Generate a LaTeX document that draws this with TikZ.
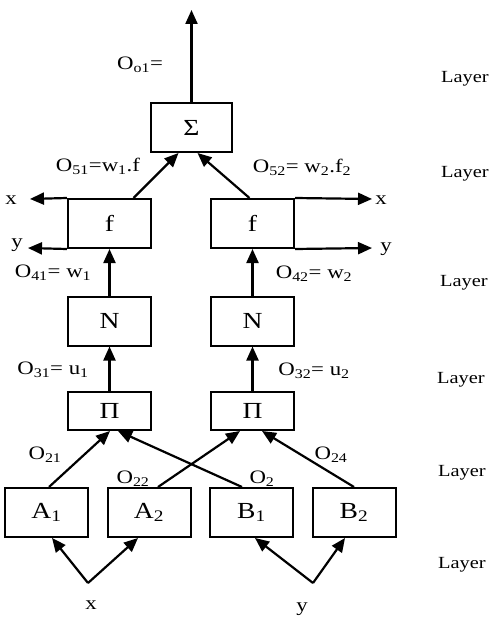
\documentclass[tikz,border=0pt]{standalone}
\usepackage{fontspec}
\setmainfont{Liberation Serif}
\newfontfamily\lblfont[FakeStretch=1.2]{Liberation Serif}
\usetikzlibrary{arrows.meta}
\begin{document}
\begin{tikzpicture}[x=1pt,y=-1pt,
  box/.style={draw,line width=2pt,minimum width=83pt,minimum height=49pt,inner sep=0pt,font=\lblfont\fontsize{23}{26}\selectfont},
  arr/.style={line width=2.2pt,-{Triangle[length=14pt,width=12pt]}},
  lbl/.style={inner sep=0pt,font=\lblfont\fontsize{19}{21}\selectfont},
  lay/.style={inner sep=0pt,anchor=west,font=\lblfont\fontsize{17}{19}\selectfont}]
\useasboundingbox[fill=white] (0,0) rectangle (493,620);
% boxes
\node[box,minimum width=81pt] (S) at (191.5,127.5) {Σ};
\node[box] (fL) at (109.5,223.5) {f};
\node[box] (fR) at (252.5,223.5) {f};
\node[box] (NL) at (109.5,321) {N};
\node[box] (NR) at (252.5,321) {N};
\node[box,minimum height=38pt] (PL) at (109.5,411) {Π};
\node[box,minimum height=38pt] (PR) at (252.5,411) {Π};
\node[box] (A1) at (46.5,512.5) {A\textsubscript{1}};
\node[box] (A2) at (149,512.5) {A\textsubscript{2}};
\node[box] (B1) at (251.5,512.5) {B\textsubscript{1}};
\node[box] (B2) at (354,512.5) {B\textsubscript{2}};
% free ends
\coordinate (out) at (191.5,10);
\coordinate (xl) at (30,199);
\coordinate (yl) at (28,248);
\coordinate (xr) at (372,199);
\coordinate (yr) at (372,248);
\coordinate (xin) at (88,583);
\coordinate (yin) at (313,583);
% connectors
\draw[arr] (S.north) -- (out);
\draw[arr] ([xshift=24pt]fL.north) -- ([xshift=-13pt]S.south);
\draw[arr] ([xshift=-3pt]fR.north) -- ([xshift=6pt]S.south);
\draw[arr] (fL.north west) -- (xl);
\draw[arr] (fL.south west) -- (yl);
\draw[arr] (fR.north east) -- (xr);
\draw[arr] (fR.south east) -- (yr);
\draw[arr] (NL.north) -- (fL.south);
\draw[arr] (NR.north) -- (fR.south);
\draw[arr] (PL.north) -- (NL.south);
\draw[arr] (PR.north) -- (NR.south);
\draw[arr] ([xshift=2.5pt]A1.north) -- ([xshift=0.5pt]PL.south);
\draw[arr] ([xshift=-9.5pt]B1.north) -- ([xshift=8.5pt]PL.south);
\draw[arr] ([xshift=9pt]A2.north) -- ([xshift=-12.5pt]PR.south);
\draw[arr] (B2.north) -- ([xshift=9.5pt]PR.south);
\draw[arr] (xin) -- ([xshift=5.5pt]A1.south);
\draw[arr] (xin) -- ([xshift=-11pt]A2.south);
\draw[arr] (yin) -- ([xshift=3.5pt]B1.south);
\draw[arr] (yin) -- ([xshift=-9pt]B2.south);
% labels
\node[lbl] (lo) at (140,65) {O\textsubscript{o1}=};
\node[lbl] (l51) at (98,166) {O\textsubscript{51}=w\textsubscript{1}.f};
\node[lbl] (l52) at (302,167) {O\textsubscript{52}= w\textsubscript{2}.f\textsubscript{2}};
\node[lbl] (lxl) at (11,200) {x};
\node[lbl] (lyl) at (17,245) {y};
\node[lbl] (lxr) at (381,200) {x};
\node[lbl] (lyr) at (386,249) {y};
\node[lbl] (l41) at (53,273) {O\textsubscript{41}= w\textsubscript{1}};
\node[lbl] (l42) at (314,274) {O\textsubscript{42}= w\textsubscript{2}};
\node[lbl] (l31) at (53,370) {O\textsubscript{31}= u\textsubscript{1}};
\node[lbl] (l32) at (314,371) {O\textsubscript{32}= u\textsubscript{2}};
\node[lbl] (l21) at (45,455) {O\textsubscript{21}};
\node[lbl] (l22) at (133,479) {O\textsubscript{22}};
\node[lbl] (l23) at (262,479) {O\textsubscript{2}};
\node[lbl] (l24) at (331,455) {O\textsubscript{24}};
\node[lbl] (lx) at (91,605) {x};
\node[lbl] (ly) at (302,609) {y};
\node[lay] (L1) at (441,79) {Layer};
\node[lay] (L2) at (441,174) {Layer};
\node[lay] (L3) at (440,283) {Layer};
\node[lay] (L4) at (437,380) {Layer};
\node[lay] (L5) at (438,473) {Layer};
\node[lay] (L6) at (438,565) {Layer};
\end{tikzpicture}
\end{document}
